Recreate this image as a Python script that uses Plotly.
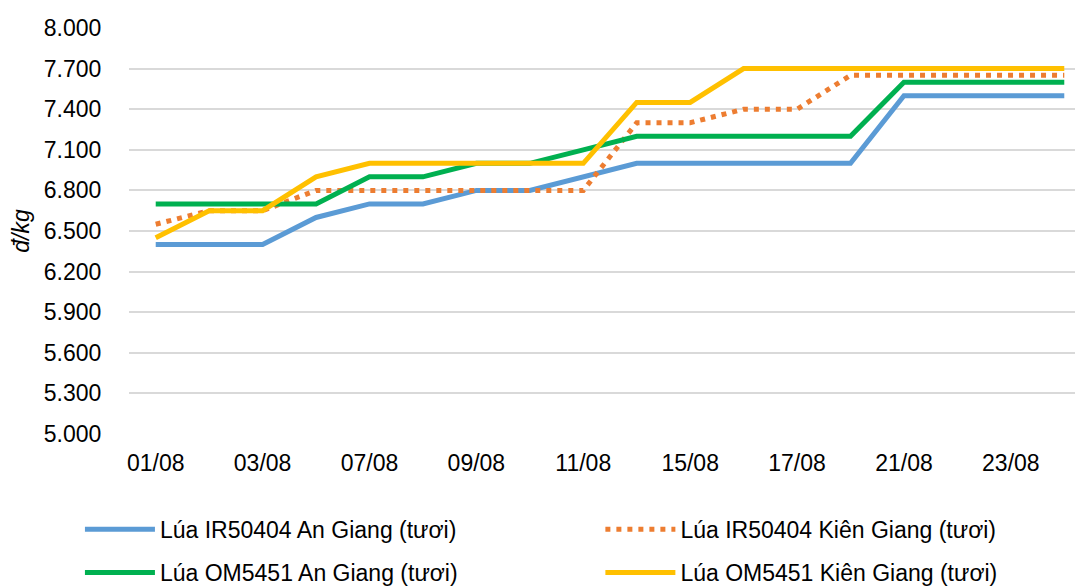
import plotly.graph_objects as go

# dates (categories) - every second one is labelled on the axis
dates = ["01/08", "02/08", "03/08", "04/08", "07/08", "08/08", "09/08", "10/08", "11/08",
         "14/08", "15/08", "16/08", "17/08", "18/08", "21/08", "22/08", "23/08", "24/08"]

ir50404_an_giang = [6400, 6400, 6400, 6600, 6700, 6700, 6800, 6800, 6900,
                    7000, 7000, 7000, 7000, 7000, 7500, 7500, 7500, 7500]
ir50404_kien_giang = [6550, 6650, 6650, 6800, 6800, 6800, 6800, 6800, 6800,
                      7300, 7300, 7400, 7400, 7650, 7650, 7650, 7650, 7650]
om5451_an_giang = [6700, 6700, 6700, 6700, 6900, 6900, 7000, 7000, 7100,
                   7200, 7200, 7200, 7200, 7200, 7600, 7600, 7600, 7600]
om5451_kien_giang = [6450, 6650, 6650, 6900, 7000, 7000, 7000, 7000, 7000,
                     7450, 7450, 7700, 7700, 7700, 7700, 7700, 7700, 7700]

series_names = ["Lúa IR50404 An Giang (tươi)", "Lúa IR50404 Kiên Giang (tươi)",
                "Lúa OM5451 An Giang (tươi)", "Lúa OM5451 Kiên Giang (tươi)"]

FONT = "Arial, 'Liberation Sans', sans-serif"
FS = 23

fig = go.Figure()
fig.add_trace(go.Scatter(x=dates, y=ir50404_an_giang, name=series_names[0], mode="lines",
                         line=dict(color="#5B9BD5", width=5), legend="legend"))
fig.add_trace(go.Scatter(x=dates, y=ir50404_kien_giang, name=series_names[1], mode="lines",
                         line=dict(color="#ED7D31", width=5, dash="5px,6px"), legend="legend2"))
fig.add_trace(go.Scatter(x=dates, y=om5451_an_giang, name=series_names[2], mode="lines",
                         line=dict(color="#00B050", width=5), legend="legend3"))
fig.add_trace(go.Scatter(x=dates, y=om5451_kien_giang, name=series_names[3], mode="lines",
                         line=dict(color="#FFC000", width=5), legend="legend4"))

# one legend per entry so the 2x2 grid can be placed like the original
leg = dict(orientation="h", font=dict(size=FS, color="#000000", family=FONT),
           xanchor="left", yanchor="middle", itemwidth=70, bgcolor="rgba(0,0,0,0)")
col1, col2 = -0.051, 0.49
row1, row2 = -0.235, -0.341

fig.update_layout(
    width=1083, height=586,
    margin=dict(l=121, r=0, t=20, b=153),
    paper_bgcolor="white", plot_bgcolor="white",
    font=dict(family=FONT, size=FS, color="#000000"),
    separators=",.",
    xaxis=dict(
        type="category", range=[-0.5, len(dates) - 0.5],
        tickmode="array", tickvals=dates[::2], ticktext=dates[::2],
        showgrid=False, showline=False, zeroline=False,
        ticks="outside", ticklen=8, tickcolor="white",
        automargin=False,
    ),
    yaxis=dict(
        range=[5000, 8000], tick0=5000, dtick=300, tickformat=",",
        showgrid=True, gridcolor="#D9D9D9", gridwidth=1.5,
        zeroline=False, showline=False,
        ticks="outside", ticklen=22, tickcolor="white",
        automargin=False,
        title=dict(text="<i>đ/kg</i>", font=dict(size=FS), standoff=8),
    ),
    legend=dict(x=col1, y=row1, **leg),
    legend2=dict(x=col2, y=row1, **leg),
    legend3=dict(x=col1, y=row2, **leg),
    legend4=dict(x=col2, y=row2, **leg),
    showlegend=True,
)

fig.write_html("out.html")
